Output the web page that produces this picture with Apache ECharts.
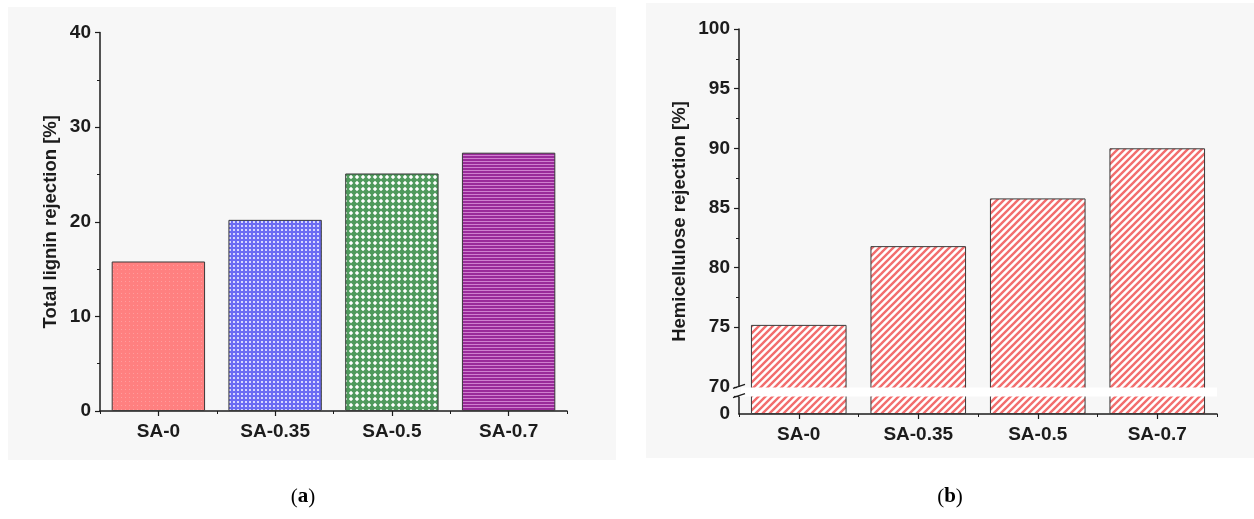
<!DOCTYPE html>
<html>
<head>
<meta charset="utf-8">
<script src="https://cdn.jsdelivr.net/npm/echarts@6/dist/echarts.min.js"></script>
<style>
  html, body { margin: 0; padding: 0; background: #ffffff; }
  #chart { width: 1254px; height: 519px; }
</style>
</head>
<body>
<div id="chart"></div>
<script>
// Sample names shared by both panels
const categories = ['SA-0', 'SA-0.35', 'SA-0.5', 'SA-0.7'];
// (a) total lignin rejection, %
const ligninRejection = [15.8, 20.2, 25.1, 27.3];
// (b) hemicellulose rejection, %
const hemicelluloseRejection = [75.2, 81.8, 85.8, 90.0];
// value-axis tick labels that are printed
const ligninTickLabels = [0, 10, 20, 30, 40];
const hemiTickLabels = [0, 70, 75, 80, 85, 90, 95, 100];
// broken range on the hemicellulose axis (gap given in axis units)
const hemiBreak = { start: 1.5, end: 70, gap: 0.77 };

const FONT = '"Liberation Sans", Arial, sans-serif';
const INK = '#1c1c1c';
const PANEL = '#f7f7f7';

// small repeating canvas tiles used as bar fills
function tile(w, h, draw) {
  const c = document.createElement('canvas');
  c.width = w; c.height = h;
  draw(c.getContext('2d'), w, h);
  return { image: c, repeat: 'repeat' };
}
const ligninFills = [
  tile(4, 4, g => { g.fillStyle = '#ff8080'; g.fillRect(0, 0, 4, 4); g.fillStyle = '#ff9d9d'; g.fillRect(1, 1, 1, 1); }),
  tile(4, 4, g => { g.fillStyle = '#6b6bf3'; g.fillRect(0, 0, 4, 4); g.fillStyle = '#d6d6ff'; g.fillRect(1, 1, 2, 2); }),
  tile(6, 6, g => {
    g.fillStyle = '#4f9a5c'; g.fillRect(0, 0, 6, 6);
    g.fillStyle = '#ffffff';
    g.beginPath(); g.moveTo(3, 0.8); g.lineTo(5.2, 3); g.lineTo(3, 5.2); g.lineTo(0.8, 3); g.closePath(); g.fill();
  }),
  tile(1, 3, g => { g.fillStyle = '#9a2a9a'; g.fillRect(0, 0, 1, 3); g.fillStyle = '#cf7fcf'; g.fillRect(0, 2, 1, 1); })
];
const hatchFill = tile(7, 7, g => {
  g.fillStyle = '#ffffff'; g.fillRect(0, 0, 7, 7);
  g.strokeStyle = '#f26e6e'; g.lineWidth = 2.4;
  g.beginPath();
  g.moveTo(-1, 8); g.lineTo(8, -1);
  g.moveTo(-1, 1); g.lineTo(1, -1);
  g.moveTo(6, 8); g.lineTo(8, 6);
  g.stroke();
});

const labelStyle = { color: INK, fontFamily: FONT, fontWeight: 'bold', fontSize: 19 };

function valueAxis(gridIndex, min, max, interval, shown, name, nameGap, extra) {
  return Object.assign({
    type: 'value', gridIndex, min, max, interval, name,
    nameLocation: 'middle', nameGap, nameRotate: 90,
    nameTextStyle: { color: INK, fontFamily: FONT, fontWeight: 'bold', fontSize: 18.5 },
    axisLine: { show: true, lineStyle: { color: INK, width: 1.5 } },
    axisTick: { show: true, length: 5, lineStyle: { color: INK, width: 1.2 } },
    minorTick: { show: true, splitNumber: 2, length: 3, lineStyle: { color: INK, width: 1 } },
    splitLine: { show: false },
    axisLabel: Object.assign({}, labelStyle, {
      margin: 9,
      customValues: shown,
      formatter: v => String(Math.round(v))
    })
  }, extra || {});
}

function categoryAxis(gridIndex) {
  return {
    type: 'category', gridIndex, data: categories,
    axisLine: { show: true, lineStyle: { color: INK, width: 1.5 } },
    axisTick: { show: true, alignWithLabel: true, length: 5, lineStyle: { color: INK, width: 1.2 } },
    axisLabel: Object.assign({}, labelStyle, { margin: 11 })
  };
}
// second category axis that only draws the short ticks between groups
function boundaryTicks(gridIndex) {
  return {
    type: 'category', gridIndex, data: categories, position: 'bottom',
    axisLine: { show: false },
    axisTick: { show: true, alignWithLabel: false, length: 3, lineStyle: { color: INK, width: 1 } },
    axisLabel: { show: false }
  };
}

const chart = echarts.init(document.getElementById('chart'), null, { renderer: 'canvas' });

const option = {
  animation: false,
  backgroundColor: '#ffffff',
  grid: [
    { left: 100, top: 32.5, right: 687, bottom: 108 },
    { left: 739, top: 29, right: 37, bottom: 105 }
  ],
  xAxis: [categoryAxis(0), categoryAxis(1), boundaryTicks(0), boundaryTicks(1)],
  yAxis: [
    valueAxis(0, 0, 40, 10, ligninTickLabels, 'Total lignin rejection [%]', 40),
    valueAxis(1, 0, 100, 5, hemiTickLabels, 'Hemicellulose rejection [%]', 50, {
      breaks: [{ start: hemiBreak.start, end: hemiBreak.end, gap: hemiBreak.gap }],
      breakArea: {
        show: true,
        itemStyle: { color: '#ffffff', borderWidth: 0, opacity: 1 },
        zigzagAmplitude: 0,
        zigzagZ: 100,
        expandOnClick: false
      }
    })
  ],
  graphic: [
    { id: 'panelA', type: 'rect', z: -10, silent: true, shape: { x: 8, y: 7, width: 608, height: 453 }, style: { fill: PANEL } },
    { id: 'panelB', type: 'rect', z: -10, silent: true, shape: { x: 646, y: 3, width: 608, height: 455 }, style: { fill: PANEL } },
    {
      id: 'tagA', type: 'text', x: 303, y: 497, silent: true,
      style: {
        text: '({a|a})', align: 'center', verticalAlign: 'middle',
        font: '21px "Liberation Serif", serif', fill: '#000',
        rich: { a: { fontWeight: 'bold', fontSize: 21, fontFamily: '"Liberation Serif", serif' } }
      }
    },
    {
      id: 'tagB', type: 'text', x: 950, y: 497, silent: true,
      style: {
        text: '({b|b})', align: 'center', verticalAlign: 'middle',
        font: '21px "Liberation Serif", serif', fill: '#000',
        rich: { b: { fontWeight: 'bold', fontSize: 21, fontFamily: '"Liberation Serif", serif' } }
      }
    }
  ],
  series: [
    {
      type: 'bar', xAxisIndex: 0, yAxisIndex: 0, barWidth: '80%',
      data: ligninRejection.map((v, i) => ({ value: v, itemStyle: { color: ligninFills[i] } })),
      itemStyle: { borderColor: '#3a3a3a', borderWidth: 1 }
    },
    {
      type: 'bar', xAxisIndex: 1, yAxisIndex: 1, barWidth: '80%',
      data: hemicelluloseRejection,
      itemStyle: { color: hatchFill, borderColor: '#3a3a3a', borderWidth: 1 }
    }
  ]
};
chart.setOption(option);

// "//" marks where the hemicellulose axis line is interrupted
const yLow = chart.convertToPixel({ yAxisIndex: 1 }, hemiBreak.start);
const yHigh = chart.convertToPixel({ yAxisIndex: 1 }, hemiBreak.end);
const axisX = option.grid[1].left;
chart.setOption({
  graphic: [
    { id: 'axisGap', type: 'rect', z: 120, silent: true, shape: { x: axisX - 2, y: yHigh, width: 4, height: yLow - yHigh }, style: { fill: PANEL } },
    { id: 'slashHigh', type: 'line', z: 121, silent: true, shape: { x1: axisX - 6, y1: yHigh + 1.5, x2: axisX + 6, y2: yHigh - 2.5 }, style: { stroke: INK, lineWidth: 1.3 } },
    { id: 'slashLow', type: 'line', z: 121, silent: true, shape: { x1: axisX - 6, y1: yLow + 1.5, x2: axisX + 6, y2: yLow - 2.5 }, style: { stroke: INK, lineWidth: 1.3 } }
  ]
});
</script>
</body>
</html>
